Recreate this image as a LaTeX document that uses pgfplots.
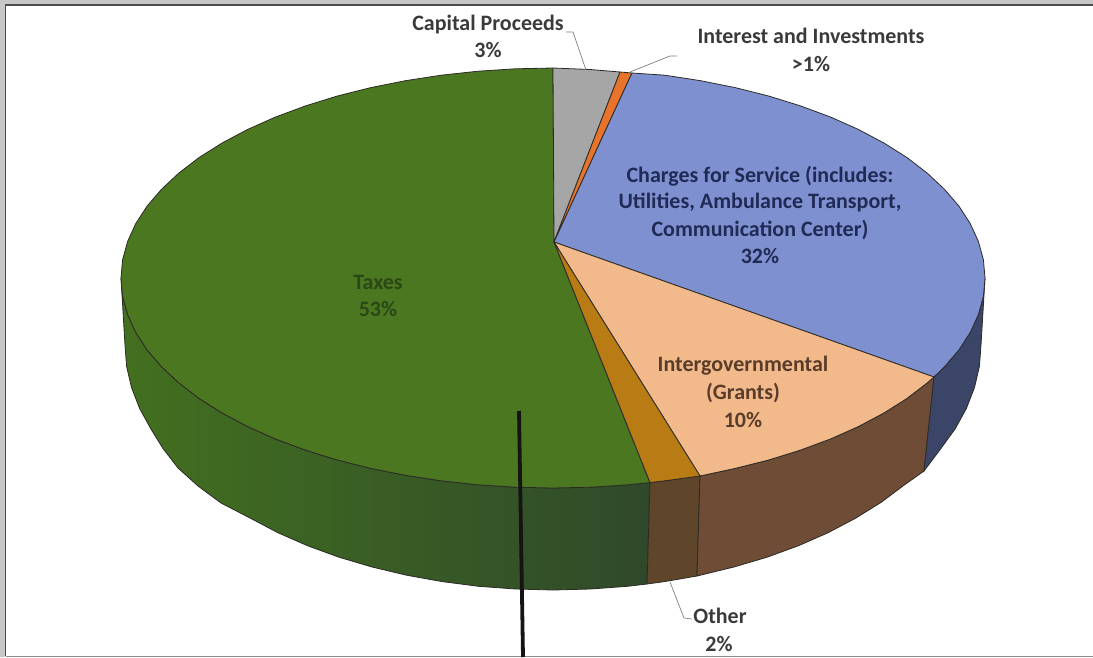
\documentclass[border=0pt]{standalone}
\usepackage{fontspec}
\setmainfont{Carlito}
\usepackage{pgfplots}
\pgfplotsset{compat=1.18}
\definecolor{topgreen}{HTML}{4C7721}
\definecolor{sidegreenL}{HTML}{43701F}
\definecolor{sidegreenR}{HTML}{2F492A}
\definecolor{topblue}{HTML}{7F90D0}
\definecolor{sideblue}{HTML}{3B4568}
\definecolor{toppeach}{HTML}{F2B98B}
\definecolor{sidepeach}{HTML}{6E4C36}
\definecolor{topother}{HTML}{B97B14}
\definecolor{sideother}{HTML}{5F452A}
\definecolor{topgray}{HTML}{A6A6A6}
\definecolor{toporange}{HTML}{E8742B}
\definecolor{edge}{HTML}{2B2B26}
\definecolor{lbl}{HTML}{3A3A3A}
\definecolor{lblblue}{HTML}{1F2A55}
\definecolor{lblgreen}{HTML}{2A4716}
\definecolor{lblbrown}{HTML}{5A3C2A}
\tikzset{lab/.style={font=\fontsize{22}{26}\selectfont\bfseries, anchor=base, inner sep=0pt}}
\begin{document}
\begin{tikzpicture}
\begin{axis}[
    scale only axis,
    width=1093pt,
    height=657pt,
    xmin=0, xmax=1093,
    ymin=0, ymax=657,
    y dir=reverse,
    axis lines=none,
    no markers,
    clip=true,
    every axis plot/.append style={line width=0.8pt, line join=round},
]
% scanned margin and frame
\addplot[draw=none, fill=black!22] coordinates {(0,0) (1093,0) (1093,4) (5,4) (5,657) (0,657)} --cycle;
\addplot[draw=black!70, line width=1.4pt] coordinates {(1093,5) (5.5,5) (5.5,656)};
\addplot[draw=black!45, line width=1pt] coordinates {(5.5,656) (1093,656)};

% side walls
\addplot[draw=edge, left color=sidegreenL, right color=sidegreenR] coordinates {
    (650,482.6) (628,484.8) (590.7,487.2) (553,488) (515.3,487.2) (478,484.8) (441.2,480.8)
    (405.3,475.3) (370.4,468.3) (337,459.9) (305.2,450) (275.3,438.9) (247.5,426.5) (222.1,413)
    (199.1,398.5) (178.9,383) (161.5,366.7) (147,349.8) (135.7,332.3) (127.6,314.5) (122.6,296.3) (121,278)
    (125,345) (126.6,366.4) (131.5,387.5) (139.6,408.4) (150.8,428.8) (163,448.5) (178,468) (198,486)
    (221,503) (250.4,518.2) (277.9,532.7) (307.5,545.7) (339,557.2) (372.1,567) (406.6,575.2) (442.2,581.6)
    (478.7,586.3) (515.7,589) (553,590) (590.3,589) (627.3,586.3) (647,584)
} --cycle;
\addplot[draw=edge, fill=sideother] coordinates {
    (650,482.6) (664.8,480.8) (700,476) (697,576) (663.8,581.7) (647,584)
} --cycle;
\addplot[draw=edge, fill=sidepeach] coordinates {
    (934,377) (927.1,383) (906.9,398.5) (883.9,413) (858.5,426.5) (830.7,438.9) (800.8,450)
    (769,459.9) (735.6,468.3) (700,476) (697,576) (733.9,567) (767,557.2) (798.5,545.7) (828.1,532.7)
    (855.6,518.2) (880.9,502.5) (903.6,485.5) (924,471)
} --cycle;
\addplot[draw=edge, fill=sideblue] coordinates {
    (985,278) (983.4,296.3) (978.4,314.5) (970.3,332.3) (959,349.8) (944.5,366.7) (934,377)
    (924,471) (940.9,448.5) (955.2,428.8) (966.4,408.4) (974.5,387.5) (979.4,366.4) (981,345)
} --cycle;

% top face
\addplot[draw=edge, fill=topgreen] coordinates {
    (554,242) (650,482.6) (628,484.8) (590.7,487.2) (553,488) (515.3,487.2) (478,484.8) (441.2,480.8)
    (405.3,475.3) (370.4,468.3) (337,459.9) (305.2,450) (275.3,438.9) (247.5,426.5) (222.1,413)
    (199.1,398.5) (178.9,383) (161.5,366.7) (147,349.8) (135.7,332.3) (127.6,314.5) (122.6,296.3) (121,278)
    (122.6,259.7) (127.6,241.5) (135.7,223.7) (147,206.2) (161.5,189.3) (178.9,173) (199.1,157.5)
    (222.1,143) (247.5,129.5) (275.3,117.1) (305.2,106) (337,96.1) (370.4,87.7) (405.3,80.7)
    (441.2,75.2) (478,71.2) (515.3,68.8) (553,68)
} --cycle;
\addplot[draw=edge, fill=topgray] coordinates {(554,242) (553,68) (590,69.5) (620,72)} --cycle;
\addplot[draw=edge, fill=toporange] coordinates {(554,242) (620,72) (632,73)} --cycle;
\addplot[draw=edge, fill=topblue] coordinates {
    (554,242) (632,73) (664.8,75.2) (700.7,80.7) (735.6,87.7) (769,96.1) (800.8,106) (830.7,117.1)
    (858.5,129.5) (883.9,143) (906.9,157.5) (927.1,173) (944.5,189.3) (959,206.2) (970.3,223.7)
    (978.4,241.5) (983.4,259.7) (985,278) (983.4,296.3) (978.4,314.5) (970.3,332.3) (959,349.8)
    (944.5,366.7) (934,377)
} --cycle;
\addplot[draw=edge, fill=toppeach] coordinates {
    (554,242) (934,377) (927.1,383) (906.9,398.5) (883.9,413) (858.5,426.5) (830.7,438.9)
    (800.8,450) (769,459.9) (735.6,468.3) (700,476)
} --cycle;
\addplot[draw=edge, fill=topother] coordinates {(554,242) (700,476) (664.8,480.8) (650,482.6)} --cycle;

% leader lines
\addplot[draw=black!50, line width=0.7pt] coordinates {(566,32) (573,32) (586,70)};
\addplot[draw=black!50, line width=0.7pt] coordinates {(677,56) (670,56) (630,72)};
\addplot[draw=black!50, line width=0.7pt] coordinates {(670,582) (684,618) (692,619)};

% black stroke across the scan
\addplot[draw=black!92, line width=3.8pt] coordinates {(519,411) (523,657)};

% labels
\node[lab, text=lbl] at (axis cs:488,30) {Capital Proceeds};
\node[lab, text=lbl] at (axis cs:488,57) {3\%};
\node[lab, text=lbl] at (axis cs:811,43) {Interest and Investments};
\node[lab, text=lbl] at (axis cs:811,71) {>1\%};
\node[lab, text=lbl] at (axis cs:720,623) {Other};
\node[lab, text=lbl] at (axis cs:719,651) {2\%};
\node[lab, text=lblblue] at (axis cs:760,182) {Charges for Service (includes:};
\node[lab, text=lblblue] at (axis cs:760,208) {Utilities, Ambulance Transport,};
\node[lab, text=lblblue] at (axis cs:760,236) {Communication Center)};
\node[lab, text=lblblue] at (axis cs:760,263) {32\%};
\node[lab, text=lblgreen] at (axis cs:378,289) {Taxes};
\node[lab, text=lblgreen] at (axis cs:378,316) {53\%};
\node[lab, text=lblbrown] at (axis cs:743,371) {Intergovernmental};
\node[lab, text=lblbrown] at (axis cs:743,399) {(Grants)};
\node[lab, text=lblbrown] at (axis cs:743,427) {10\%};
\end{axis}
\end{tikzpicture}
\end{document}
